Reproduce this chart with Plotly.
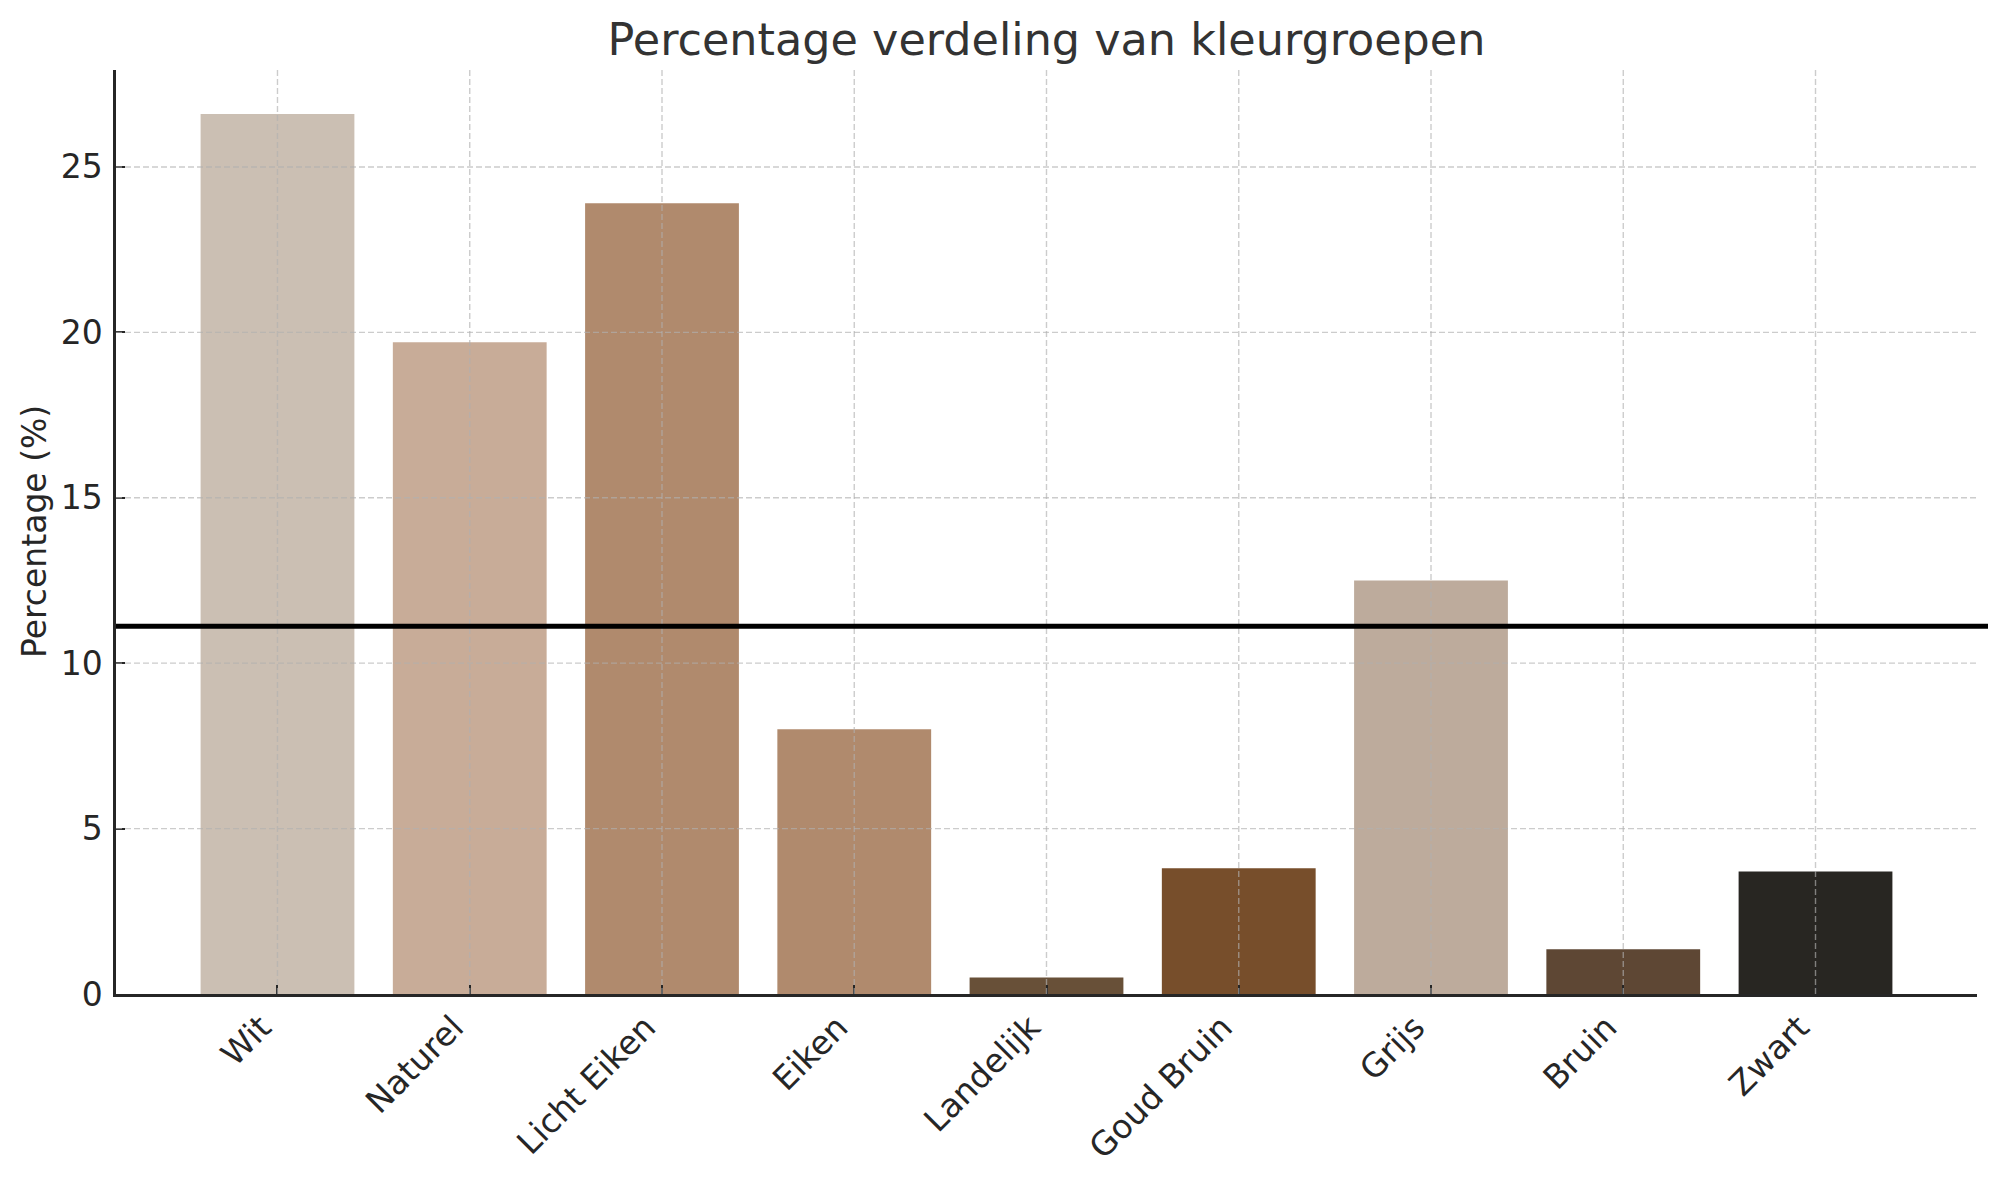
import plotly.graph_objects as go

categories = ["Wit", "Naturel", "Licht Eiken", "Eiken", "Landelijk",
              "Goud Bruin", "Grijs", "Bruin", "Zwart"]
percentages = [26.6, 19.7, 23.9, 8.0, 0.5, 3.8, 12.5, 1.35, 3.7]
bar_colors = ["#CBBFB3", "#C8AC98", "#B08A6D", "#B08A6D", "#685038",
              "#774E2B", "#BDAB9C", "#5E4734", "#282622"]
y_ticks = [0, 5, 10, 15, 20, 25]

mean_value = sum(percentages) / len(percentages)
x_idx = list(range(len(categories)))
n = len(categories)
x_range = [-0.4 - 0.05 * (n - 1 + 0.8), n - 1 + 0.4 + 0.05 * (n - 1 + 0.8)]
y_range = [0, max(percentages) * 1.05]

FONT = "DejaVu Sans"
# page body has an 8px margin; size the figure so it fits the 1996x1180 window
W, H = 1980, 1164
ML, MR, MT, MB = 108, 11, 62, 178
plot_w = W - ML - MR

fig = go.Figure()
fig.add_trace(go.Bar(
    x=x_idx, y=percentages, width=0.8,
    marker=dict(color=bar_colors, line=dict(width=0)),
    showlegend=False,
))

grid_col = "rgba(176,176,176,0.65)"
shapes = []
for xi in x_idx:
    shapes.append(dict(type="line", xref="x", yref="paper", x0=xi, x1=xi, y0=0, y1=1,
                       line=dict(color=grid_col, width=1.4, dash="6px,3px"), layer="above"))
for yv in y_ticks[1:]:
    shapes.append(dict(type="line", xref="paper", yref="y", x0=0, x1=1, y0=yv, y1=yv,
                       line=dict(color=grid_col, width=1.4, dash="6px,3px"), layer="above"))
shapes.append(dict(type="line", xref="paper", yref="y", x0=0, x1=1.03,
                   y0=mean_value, y1=mean_value,
                   line=dict(color="black", width=5), layer="above"))

fig.update_layout(
    width=W, height=H,
    margin=dict(l=ML, r=MR, t=MT, b=MB),
    paper_bgcolor="white", plot_bgcolor="white",
    font=dict(family=FONT, color="#262626", size=33),
    title=dict(text="Percentage verdeling van kleurgroepen", x=0.5, xref="paper",
               y=1 - 31 / H, yanchor="middle",
               font=dict(family=FONT, size=44.5, color="#333333")),
    shapes=shapes,
    annotations=[dict(text="Percentage (%)", xref="paper", yref="paper",
                      x=(26 - ML) / plot_w, y=0.5, textangle=-90, showarrow=False,
                      xanchor="center", yanchor="middle",
                      font=dict(family=FONT, size=33, color="#262626"))],
)
fig.update_xaxes(
    range=x_range, tickmode="array", tickvals=x_idx, ticktext=categories,
    tickangle=-45, showgrid=False, zeroline=False, automargin=False,
    showline=True, linecolor="#262626", linewidth=2.5,
    ticks="inside", ticklen=9, tickwidth=2, tickcolor="#262626",
    tickfont=dict(family=FONT, size=33, color="#262626"),
    ticklabelshift=-16, ticklabelstandoff=-2,
    layer="above traces",
)
fig.update_yaxes(
    range=y_range, tickmode="array", tickvals=y_ticks,
    showgrid=False, zeroline=False, automargin=False,
    showline=True, linecolor="#262626", linewidth=2.5,
    ticks="inside", ticklen=9, tickwidth=2, tickcolor="#262626",
    tickfont=dict(family=FONT, size=33, color="#262626"),
    ticklabelstandoff=4,
    layer="above traces",
)
fig.write_html("out.html")
